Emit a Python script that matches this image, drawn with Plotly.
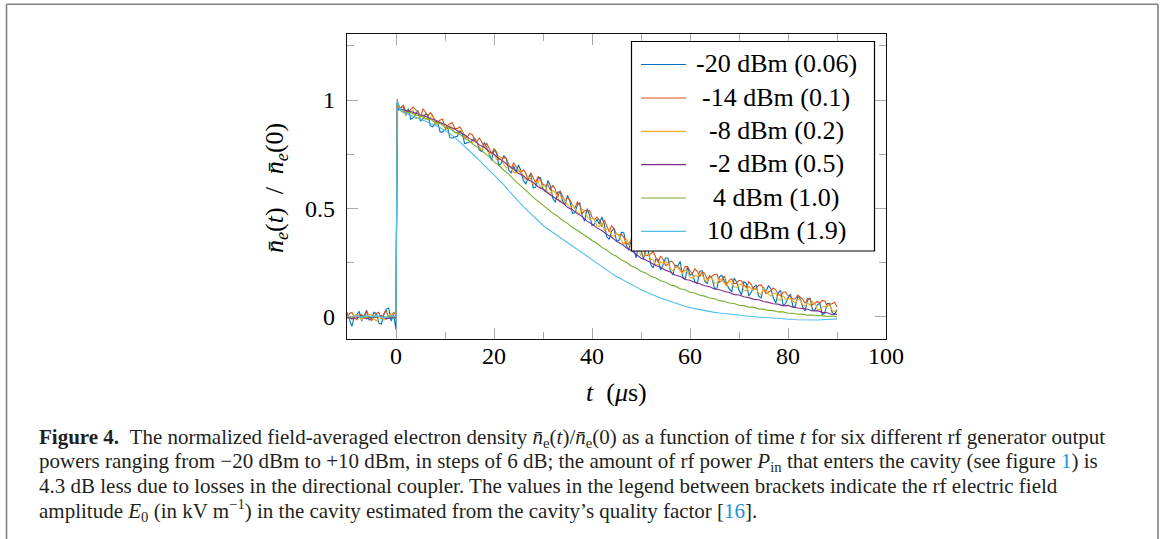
import plotly.graph_objects as go

# ---------------- data ----------------
# fine time grid (0.5 us) for the three noisiest traces, 1 us grid for the others
T_fine = [i / 2 for i in range(-20, 1)] + [0.25] + [i / 2 for i in range(1, 181)]
T = list(range(-10, 1)) + [0.25] + list(range(1, 91))

labels = ["-20 dBm (0.06)", "-14 dBm (0.1)", "-8 dBm (0.2)",
          "-2 dBm (0.5)", "4 dBm (1.0)", "10 dBm (1.9)"]
colors = ["#0072BD", "#D95319", "#EDB120", "#7E2F8E", "#77AC30", "#4DBEEE"]

m20 = [0.02, -0.01, -0.045, 0.0, 0.01, 0.025, -0.02, 0.005, 0.03, -0.015,
       -0.01, 0.02, 0.015, -0.03, -0.035, 0.01, 0.035, 0.04, -0.02, 0.01, -0.06,
       0.99,
       .952, .965, .971, .928, .96, .912, .918, .935, .951, .903,
       .914, .935, .931, .882, .877, .893, .898, .853, .852, .862,
       .876, .826, .825, .829, .833, .857, .85, .799, .802, .805,
       .812, .825, .812, .77, .762, .805, .782, .75, .722, .77,
       .756, .697, .708, .744, .73, .677, .664, .696, .668, .70,
       .674, .628, .612, .646, .655, .594, .598, .642, .641, .59,
       .577, .629, .605, .547, .528, .575, .577, .535, .517, .56,
       .533, .477, .48, .514, .527, .465, .441, .498, .469, .42,
       .427, .45, .427, .46, .427, .37, .357, .395, .407, .35,
       .352, .39, .387, .33, .307, .355, .316, .272, .328, .31,
       .264, .318, .302, .241, .225, .265, .265, .215, .24, .271,
       .271, .212, .192, .238, .234, .255, .185, .171, .231, .192,
       .199, .161, .153, .21, .212, .165, .152, .19, .177, .13,
       .132, .184, .191, .163, .15, .128, .115, .178, .16, .123,
       .10, .162, .154, .096, .113, .135, .147, .095, .087, .135,
       .116, .143, .13, .087, .063, .11, .121, .053, .06, .087,
       .104, .046, .048, .095, .082, .045, .027, .075, .087, .03,
       .032, .055, .062, .01, .017, .06, .062, .02, .012, .03]

m14 = [-0.01, 0.015, 0.02, -0.005, -0.015, 0.01, 0.01, -0.01, 0.025, 0.005,
       -0.02, 0.0, 0.015, 0.02, -0.01, 0.01, 0.03, -0.005, 0.0, 0.02, 0.01,
       1.005,
       .967, .965, .976, .948, .945, .957, .968, .955, .946, .923,
       .959, .945, .926, .942, .927, .903, .898, .908, .912, .872,
       .881, .891, .895, .869, .868, .877, .86, .829, .827, .845,
       .842, .82, .807, .825, .807, .78, .802, .78, .752, .775,
       .761, .727, .728, .734, .73, .702, .684, .711, .693, .675,
       .664, .678, .662, .631, .665, .644, .618, .647, .631, .61,
       .607, .609, .585, .607, .588, .55, .582, .555, .532, .55,
       .538, .517, .50, .529, .517, .475, .491, .488, .489, .46,
       .447, .46, .447, .415, .447, .42, .392, .42, .407, .38,
       .377, .38, .367, .34, .332, .355, .351, .322, .308, .325,
       .314, .283, .282, .291, .30, .275, .25, .28, .265, .236,
       .241, .257, .252, .233, .234, .22, .205, .231, .231, .212,
       .199, .221, .208, .185, .207, .20, .172, .185, .187, .195,
       .197, .159, .166, .188, .15, .168, .175, .153, .155, .168,
       .165, .147, .134, .161, .148, .125, .132, .145, .147, .13,
       .106, .113, .12, .132, .123, .105, .096, .113, .115, .097,
       .094, .081, .083, .10, .092, .08, .062, .085, .082, .055,
       .062, .07, .062, .075, .072, .05, .057, .06, .067, .045]

m8 = [0.005, 0.0, -0.01, 0.005, 0.01, -0.005, -0.015, 0.0, 0.0, 0.01,
      0.01, -0.01, -0.02, 0.0, 0.005, -0.015, -0.01, 0.005, 0.015, 0.0, -0.005,
      0.985,
      .972, .95, .941, .933, .945, .947, .953, .915, .916, .928,
      .934, .91, .911, .922, .922, .888, .888, .898, .892, .877,
      .861, .881, .87, .849, .848, .862, .855, .834, .832, .805,
      .802, .815, .812, .785, .767, .79, .777, .75, .752, .75,
      .726, .742, .733, .704, .685, .702, .689, .666, .663, .68,
      .669, .648, .632, .646, .635, .609, .618, .627, .591, .605,
      .602, .574, .57, .582, .573, .55, .527, .555, .537, .515,
      .508, .517, .50, .479, .477, .495, .486, .463, .449, .455,
      .447, .42, .417, .435, .397, .405, .407, .375, .372, .385,
      .372, .355, .332, .36, .337, .32, .306, .317, .313, .28,
      .279, .293, .287, .266, .26, .24, .24, .255, .245, .256,
      .246, .222, .212, .228, .229, .21, .20, .216, .206, .182,
      .179, .191, .183, .20, .192, .17, .162, .18, .177, .155,
      .157, .174, .171, .153, .14, .168, .155, .138, .135, .148,
      .15, .122, .119, .141, .128, .125, .127, .11, .102, .13,
      .121, .103, .095, .107, .108, .08, .076, .098, .08, .082,
      .084, .071, .063, .08, .077, .055, .047, .065, .052, .07,
      .062, .035, .032, .045, .047, .05, .052, .03, .022, .035]

m2 = [0.0, -0.01, -0.005, 0.005, -0.01, 0.0, -0.005, 0.005, -0.01, -0.005, -0.005,
      0.985,
      0.958, 0.952, 0.944, 0.940, 0.930, 0.925, 0.915, 0.908, 0.895, 0.888,
      0.874, 0.866, 0.850, 0.840, 0.822, 0.812, 0.793, 0.782, 0.762, 0.750,
      0.730, 0.716, 0.695, 0.682, 0.662, 0.650, 0.632, 0.620, 0.600, 0.588,
      0.570, 0.556, 0.538, 0.525, 0.505, 0.494, 0.476, 0.462, 0.441, 0.428,
      0.410, 0.398, 0.380, 0.368, 0.348, 0.336, 0.318, 0.306, 0.288, 0.270,
      0.262, 0.250, 0.236, 0.228, 0.214, 0.206, 0.192, 0.186, 0.172, 0.168,
      0.158, 0.152, 0.143, 0.138, 0.128, 0.124, 0.116, 0.112, 0.102, 0.100,
      0.092, 0.088, 0.080, 0.078, 0.070, 0.066, 0.060, 0.058, 0.050, 0.052,
      0.044, 0.040, 0.036, 0.034, 0.026, 0.028, 0.020, 0.018, 0.010, 0.012]

p4 = [0.003, -0.003, 0.002, 0.0, -0.004, 0.003, -0.002, 0.002, -0.003, 0.001, 0.0,
      0.99,
      0.955, 0.944, 0.941, 0.931, 0.927, 0.916, 0.911, 0.898, 0.892, 0.878,
      0.869, 0.853, 0.843, 0.824, 0.811, 0.791, 0.777, 0.756, 0.739, 0.716,
      0.699, 0.676, 0.658, 0.634, 0.615, 0.592, 0.573, 0.551, 0.533, 0.512,
      0.498, 0.478, 0.464, 0.444, 0.431, 0.412, 0.399, 0.382, 0.369, 0.352,
      0.339, 0.320, 0.308, 0.290, 0.279, 0.262, 0.251, 0.234, 0.225, 0.210,
      0.201, 0.187, 0.179, 0.166, 0.159, 0.146, 0.141, 0.129, 0.124, 0.113,
      0.109, 0.099, 0.095, 0.086, 0.083, 0.074, 0.071, 0.063, 0.061, 0.053,
      0.051, 0.044, 0.043, 0.036, 0.035, 0.029, 0.028, 0.022, 0.022, 0.016,
      0.016, 0.011, 0.012, 0.007, 0.008, 0.004, 0.005, 0.001, 0.003, 0.0]

p10 = [0.004, 0.0, 0.005, -0.004, 0.004, 0.0, 0.005, -0.002, -0.004, 0.004, 0.0,
       1.0,
       0.950, 0.938, 0.930, 0.921, 0.913, 0.904, 0.894, 0.884, 0.872, 0.860,
       0.845, 0.828, 0.808, 0.788, 0.766, 0.744, 0.722, 0.700, 0.678, 0.656,
       0.633, 0.608, 0.582, 0.556, 0.530, 0.508, 0.486, 0.464, 0.440, 0.422,
       0.405, 0.389, 0.373, 0.358, 0.343, 0.328, 0.311, 0.294, 0.278, 0.262,
       0.246, 0.230, 0.215, 0.200, 0.186, 0.173, 0.160, 0.148, 0.136, 0.125,
       0.114, 0.104, 0.095, 0.086, 0.078, 0.070, 0.062, 0.055, 0.048, 0.042,
       0.037, 0.032, 0.028, 0.024, 0.020, 0.017, 0.014, 0.011, 0.008, 0.006,
       0.004, 0.002, 0.000, -0.002, -0.004, -0.006, -0.008, -0.010, -0.011, -0.012,
       -0.013, -0.014, -0.015, -0.015, -0.016, -0.015, -0.014, -0.013, -0.012, -0.010]

series = [m20, m14, m8, m2, p4, p10]
grids = [T_fine, T_fine, T_fine, T, T, T]

x_ticks = [0, 20, 40, 60, 80, 100]
x_minor = [10, 30, 50, 70, 90]
y_ticks = [0, 0.5, 1]
y_ticklabels = ["0", "0.5", "1"]
y_minor = [0.25, 0.75, 1.25]

# ---------------- geometry helpers ----------------
W, H = 1165, 539
ML, MR, MT, MB = 347, 279, 34, 200
PW, PH = W - ML - MR, H - MT - MB


def fx(px):
    return (px - ML) / PW


def fy(py):
    return (MT + PH - py) / PH


SERIF = "Liberation Serif"
TICKC = "#a8a8a8"

fig = go.Figure()
for lab, col, xs, ys in zip(labels, colors, grids, series):
    fig.add_trace(go.Scatter(x=xs, y=ys, mode="lines", name=lab,
                             line=dict(color=col, width=1.1), showlegend=False))

axis_common = dict(showgrid=False, zeroline=False, showline=True,
                   linecolor="#111", linewidth=1.2, mirror="allticks",
                   ticks="inside", ticklen=11, tickwidth=1.2, tickcolor=TICKC,
                   tickfont=dict(family=SERIF, size=24, color="black"))

fig.update_xaxes(range=[-10, 100], tickvals=x_ticks, ticklabelstandoff=-5,
                 minor=dict(tickvals=x_minor, ticks="inside", ticklen=7,
                            tickwidth=1.2, tickcolor=TICKC),
                 **axis_common)
fig.update_yaxes(range=[-0.103, 1.305], tickvals=y_ticks, ticktext=y_ticklabels,
                 ticklabelstandoff=6,
                 minor=dict(tickvals=y_minor, ticks="inside", ticklen=7,
                            tickwidth=1.2, tickcolor=TICKC),
                 **axis_common)

shapes = []
annotations = []

# page frame (open at bottom)
frame = dict(color="#808080", width=1.6)
shapes.append(dict(type="line", xref="paper", yref="paper", x0=fx(6.5), x1=fx(6.5),
                   y0=fy(4.3), y1=fy(545), line=frame))
shapes.append(dict(type="line", xref="paper", yref="paper", x0=fx(1158), x1=fx(1158),
                   y0=fy(4.3), y1=fy(545), line=frame))
shapes.append(dict(type="line", xref="paper", yref="paper", x0=fx(6.5), x1=fx(1158),
                   y0=fy(4.3), y1=fy(4.3), line=frame))

# legend box
shapes.append(dict(type="rect", xref="paper", yref="paper", layer="above",
                   x0=fx(631.5), x1=fx(874.5), y0=fy(251), y1=fy(41.5),
                   fillcolor="white", line=dict(color="black", width=1.2)))
row_y = [63.5, 97, 130.3, 163.6, 197, 230.3]
for lab, col, ry in zip(labels, colors, row_y):
    shapes.append(dict(type="line", xref="paper", yref="paper", layer="above",
                       x0=fx(641), x1=fx(686), y0=fy(ry + 1), y1=fy(ry + 1),
                       line=dict(color=col, width=1.2)))
    annotations.append(dict(xref="paper", yref="paper", x=fx(776), y=fy(ry),
                            xanchor="center", yanchor="middle", showarrow=False,
                            text=lab, font=dict(family=SERIF, size=26, color="black")))

# axis titles
annotations.append(dict(xref="paper", yref="paper", x=fx(616), y=fy(392),
                        xanchor="center", yanchor="middle", showarrow=False,
                        text="<i>t</i>\u00a0\u00a0(<i>μ</i>s)",
                        font=dict(family=SERIF, size=26, color="black")))
annotations.append(dict(xref="paper", yref="paper", x=fx(276), y=fy(188),
                        xanchor="center", yanchor="middle", showarrow=False,
                        textangle=-90,
                        text="<i>n\u0304</i><sub><i>e</i></sub>(<i>t</i>)\u00a0\u00a0/\u00a0\u00a0<i>n\u0304</i><sub><i>e</i></sub>(0)",
                        font=dict(family=SERIF, size=26, color="black")))

# caption
LINK = "#1a93d6"
cap_lines = [
    "<b>Figure 4.</b>\u00a0\u00a0The normalized field-averaged electron density "
    "<i>n\u0304</i><sub>e</sub>(<i>t</i>)/<i>n\u0304</i><sub>e</sub>(0) as a function of time <i>t</i> "
    "for six different rf generator output",
    "powers ranging from \u221220 dBm to +10 dBm, in steps of 6 dB; the amount of rf power "
    "<i>P</i><sub>in</sub> that enters the cavity (see figure "
    f"<span style='color:{LINK}'>1</span>) is",
    "4.3 dB less due to losses in the directional coupler. The values in the legend between "
    "brackets indicate the rf electric field",
    "amplitude <i>E</i><sub>0</sub> (in kV m<sup>\u22121</sup>) in the cavity estimated from "
    f"the cavity\u2019s quality factor [<span style='color:{LINK}'>16</span>].",
]
cap_y = [438, 462, 486, 510]
for txt, cy in zip(cap_lines, cap_y):
    annotations.append(dict(xref="paper", yref="paper", x=fx(37), y=fy(cy),
                            xanchor="left", yanchor="middle", showarrow=False,
                            text=txt, font=dict(family=SERIF, size=21, color="#231f20")))

fig.update_layout(width=W, height=H, margin=dict(l=ML, r=MR, t=MT, b=MB),
                  paper_bgcolor="white", plot_bgcolor="white",
                  shapes=shapes, annotations=annotations, showlegend=False)

fig.write_html("out.html")
